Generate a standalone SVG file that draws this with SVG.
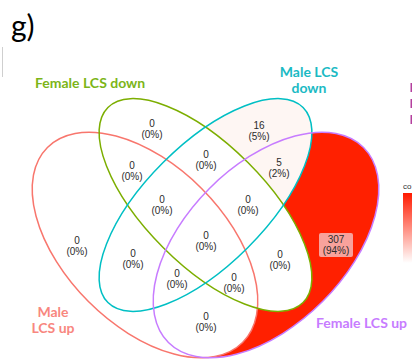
<svg xmlns="http://www.w3.org/2000/svg" width="412" height="362" viewBox="0 0 412 362">
<style>
.n{font-family:"Liberation Sans",Arial,sans-serif;font-size:10px;fill:#2b2b2b;text-anchor:middle}
.lab{font-family:Lato,"Open Sans",sans-serif;font-weight:bold;font-size:14px}
.edge{fill:none;stroke-width:1.5}
</style>
<defs>
<linearGradient id="cnt" x1="0" y1="0" x2="0" y2="1"><stop offset="0" stop-color="#FF1A00"/><stop offset="1" stop-color="#FFFFFF"/></linearGradient>
<clipPath id="cpPurple"><ellipse cx="266" cy="245" rx="138" ry="80" transform="rotate(-45 266 245)"/></clipPath>
</defs>
<rect width="412" height="362" fill="#fff"/>
<line x1="2.5" y1="47" x2="2.5" y2="77" stroke="#cfcfcf" stroke-width="1"/>
<text x="11" y="37" style="font-family:Lato,'Open Sans',sans-serif;font-size:30px;fill:#000">g)</text>

<g id="fills">
<ellipse cx="266" cy="245" rx="138" ry="80" transform="rotate(-45 266 245)" fill="#FF2000"/>
<ellipse cx="205.5" cy="205" rx="138" ry="60" transform="rotate(-45 205.5 205)" fill="#FBECE7"/>
<ellipse cx="205.5" cy="205" rx="138" ry="60" transform="rotate(-45 205.5 205)" fill="#FEF6F3" clip-path="url(#cpPurple)"/>
<ellipse cx="205.5" cy="205" rx="138" ry="60" transform="rotate(45 205.5 205)" fill="#fff"/>
<ellipse cx="145" cy="245" rx="138" ry="80" transform="rotate(45 145 245)" fill="#fff"/>
</g>

<g id="male-lcs-up">
<ellipse class="edge" cx="145" cy="245" rx="138" ry="80" transform="rotate(45 145 245)" stroke="#F8766D"/>
<text class="lab" x="53" y="317" text-anchor="middle" fill="#F8877F">Male</text>
<text class="lab" x="53" y="333" text-anchor="middle" fill="#F8877F">LCS up</text>
</g>
<g id="female-lcs-down">
<ellipse class="edge" cx="205.5" cy="205" rx="138" ry="60" transform="rotate(45 205.5 205)" stroke="#7CAE00"/>
<text class="lab" x="35" y="88" fill="#7CB518">Female LCS down</text>
</g>
<g id="male-lcs-down">
<ellipse class="edge" cx="205.5" cy="205" rx="138" ry="60" transform="rotate(-45 205.5 205)" stroke="#00BFC4"/>
<text class="lab" x="309" y="77" text-anchor="middle" fill="#1BBAC4">Male LCS</text>
<text class="lab" x="309" y="93" text-anchor="middle" fill="#1BBAC4">down</text>
</g>
<g id="female-lcs-up">
<ellipse class="edge" cx="266" cy="245" rx="138" ry="80" transform="rotate(-45 266 245)" stroke="#C77CFF"/>
<text class="lab" x="316" y="328" fill="#C77CFF">Female LCS up</text>
</g>

<g id="counts">
<text class="n" x="152" y="127">0</text><text class="n" x="152" y="138">(0%)</text>
<text class="n" x="259" y="129">16</text><text class="n" x="259" y="140">(5%)</text>
<text class="n" x="206" y="158">0</text><text class="n" x="206" y="169">(0%)</text>
<text class="n" x="132" y="169">0</text><text class="n" x="132" y="180">(0%)</text>
<text class="n" x="279" y="166">5</text><text class="n" x="279" y="177">(2%)</text>
<text class="n" x="162" y="203">0</text><text class="n" x="162" y="214">(0%)</text>
<text class="n" x="248" y="203">0</text><text class="n" x="248" y="214">(0%)</text>
<text class="n" x="77" y="244">0</text><text class="n" x="77" y="255">(0%)</text>
<text class="n" x="206" y="239">0</text><text class="n" x="206" y="250">(0%)</text>
<text class="n" x="133" y="257">0</text><text class="n" x="133" y="268">(0%)</text>
<text class="n" x="280" y="258">0</text><text class="n" x="280" y="269">(0%)</text>
<text class="n" x="177" y="277">0</text><text class="n" x="177" y="288">(0%)</text>
<text class="n" x="234" y="281">0</text><text class="n" x="234" y="292">(0%)</text>
<text class="n" x="206" y="320">0</text><text class="n" x="206" y="331">(0%)</text>
<rect x="319" y="233" width="34" height="24" rx="2" fill="#F8A29C"/>
<text class="n" x="336" y="243">307</text><text class="n" x="336" y="254">(94%)</text>
</g>

<g id="legend">
<rect x="410.5" y="83" width="1.5" height="9" fill="#B4409E"/>
<rect x="410.5" y="99" width="1.5" height="9" fill="#B4409E"/>
<rect x="410.5" y="115" width="1.5" height="9" fill="#B4409E"/>
<text x="403" y="189" style="font-family:'Liberation Sans',Arial,sans-serif;font-size:8px;fill:#333">co</text>
<rect x="403" y="193" width="9" height="70" fill="url(#cnt)"/>
</g>
</svg>
